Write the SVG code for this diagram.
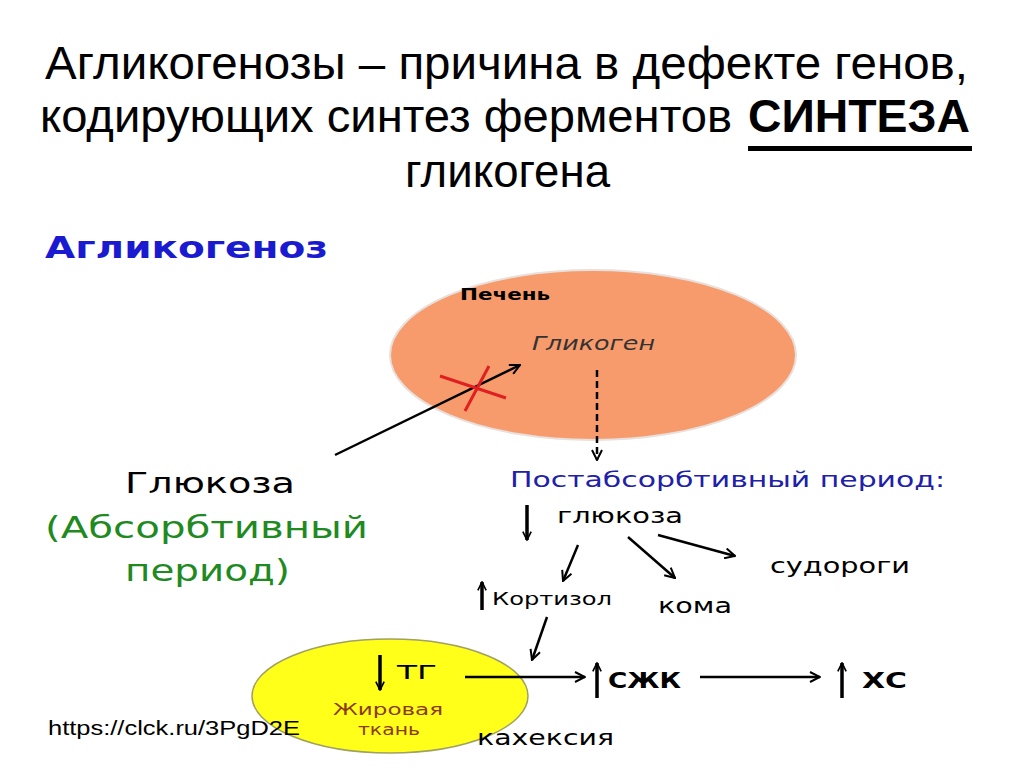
<svg xmlns="http://www.w3.org/2000/svg" width="1024" height="768" viewBox="0 0 1024 768">
<defs>
<marker id="v" viewBox="0 0 12 12" refX="11" refY="6" markerWidth="12" markerHeight="12" markerUnits="userSpaceOnUse" orient="auto">
<path d="M1,1 L11,6 L1,11" fill="none" stroke="#000" stroke-width="2"/>
</marker>
<marker id="vs" viewBox="0 0 12 12" refX="11" refY="6" markerWidth="10" markerHeight="10" markerUnits="userSpaceOnUse" orient="auto">
<path d="M1,1 L11,6 L1,11" fill="none" stroke="#000" stroke-width="2"/>
</marker>
</defs>
<style>
.t{font-family:"Liberation Sans Narrow","Liberation Sans",Arial,sans-serif;font-size:47px;fill:#000}
.s{font-family:"DejaVu Sans","Liberation Sans",Arial,sans-serif;fill:#000}
.c{stroke:#000;stroke-width:2.5;fill:none;marker-end:url(#v)}
.u{stroke:#000;stroke-width:3.5;fill:none;marker-end:url(#vs)}
</style>
<rect width="1024" height="768" fill="#fff"/>
<g id="title">
<text class="t" x="45" y="79" textLength="923" lengthAdjust="spacingAndGlyphs">Агликогенозы – причина в дефекте генов,</text>
<text class="t" x="40" y="132" textLength="692" lengthAdjust="spacingAndGlyphs">кодирующих синтез ферментов</text>
<text class="t" x="748" y="132" font-weight="bold" textLength="222" lengthAdjust="spacingAndGlyphs">СИНТЕЗА</text>
<rect x="748" y="146" width="224" height="5" fill="#000"/>
<text class="t" x="405" y="187" textLength="205" lengthAdjust="spacingAndGlyphs">гликогена</text>
</g>
<g id="heading">
<text class="s" x="45" y="258" font-size="30" font-weight="bold" style="fill:#1a1ad0" textLength="283" lengthAdjust="spacingAndGlyphs">Агликогеноз</text>
</g>
<g id="liver">
<ellipse cx="593" cy="355" rx="203" ry="85" fill="#f89b6c" stroke="#e8e0dc" stroke-width="2"/>
<text class="s" x="460" y="300" font-size="16" font-weight="bold" textLength="90" lengthAdjust="spacingAndGlyphs">Печень</text>
<text class="s" x="532" y="350" font-size="19" font-style="italic" style="fill:#333" textLength="123" lengthAdjust="spacingAndGlyphs">Гликоген</text>
</g>
<g id="glucose-left">
<text class="s" x="125" y="493" font-size="28" textLength="170" lengthAdjust="spacingAndGlyphs">Глюкоза</text>
<text class="s" x="45" y="538" font-size="30" style="fill:#1f8a1f" textLength="323" lengthAdjust="spacingAndGlyphs">(Абсорбтивный</text>
<text class="s" x="125" y="581" font-size="30" style="fill:#1f8a1f" textLength="165" lengthAdjust="spacingAndGlyphs">период)</text>
</g>
<g id="postabs">
<text class="s" x="510" y="487" font-size="22" style="fill:#2020a8" textLength="435" lengthAdjust="spacingAndGlyphs">Постабсорбтивный период:</text>
<text class="s" x="557" y="523" font-size="22" textLength="126" lengthAdjust="spacingAndGlyphs">глюкоза</text>
<text class="s" x="770" y="573" font-size="22" textLength="140" lengthAdjust="spacingAndGlyphs">судороги</text>
<text class="s" x="492" y="605" font-size="18" textLength="120" lengthAdjust="spacingAndGlyphs">Кортизол</text>
<text class="s" x="658" y="613" font-size="22" textLength="74" lengthAdjust="spacingAndGlyphs">кома</text>
</g>
<g id="fat">
<ellipse cx="390" cy="696" rx="138" ry="57" fill="#ffff1a" stroke="#a0a060" stroke-width="1.5"/>
<text class="s" x="397" y="679" font-size="20" textLength="40" lengthAdjust="spacingAndGlyphs">ТГ</text>
<text class="s" x="333" y="715" font-size="16" style="fill:#8b3a0f" textLength="110" lengthAdjust="spacingAndGlyphs">Жировая</text>
<text class="s" x="358" y="735" font-size="16" style="fill:#8b3a0f" textLength="62" lengthAdjust="spacingAndGlyphs">ткань</text>
</g>
<g id="ffa">
<text class="s" x="608" y="688" font-size="22" font-weight="bold" textLength="73" lengthAdjust="spacingAndGlyphs">СЖК</text>
<text class="s" x="862" y="688" font-size="22" font-weight="bold" textLength="45" lengthAdjust="spacingAndGlyphs">ХС</text>
<text class="s" x="477" y="745" font-size="22" textLength="137" lengthAdjust="spacingAndGlyphs">кахексия</text>
</g>
<g id="source">
<text x="48" y="735" font-size="20" font-family="Liberation Sans, Arial, sans-serif" textLength="252" lengthAdjust="spacingAndGlyphs">https://clck.ru/3PgD2E</text>
</g>
<g id="connectors">
<path class="c" d="M335,455 L520,365"/>
<path d="M440,376 L506,398 M489,366 L465,411" stroke="#e02020" stroke-width="3" fill="none"/>
<path d="M597,370 L597,460" stroke="#000" stroke-width="2.5" stroke-dasharray="7,4" fill="none" marker-end="url(#v)"/>
<path class="u" d="M527,505 L527,540"/>
<path class="c" d="M578,545 L563,581"/>
<path class="c" d="M628,537 L675,578"/>
<path class="c" d="M658,535 L735,556"/>
<path class="u" d="M482,610 L482,582"/>
<path class="c" d="M547,617 L532,660"/>
<path class="u" d="M380,655 L380,690"/>
<path class="c" d="M465,677 L585,677"/>
<path class="u" d="M597,698 L597,663"/>
<path class="c" d="M700,677 L820,677"/>
<path class="u" d="M842,698 L842,663"/>
</g>
</svg>
